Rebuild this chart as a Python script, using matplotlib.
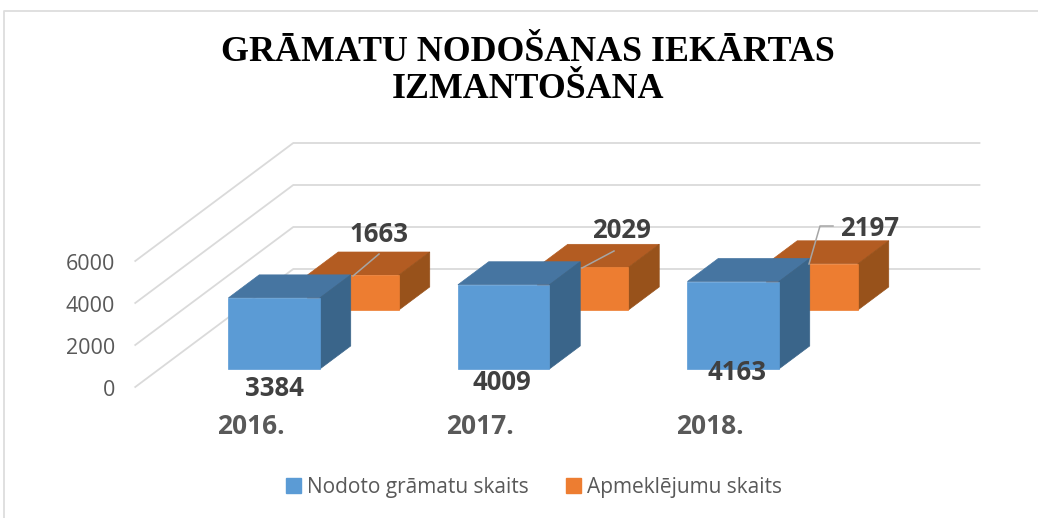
import matplotlib
matplotlib.use("Agg")
import matplotlib.pyplot as plt
from matplotlib.lines import Line2D
from matplotlib.patches import Rectangle

# Dati
years = ["2016.", "2017.", "2018."]
books = [3384, 4009, 4163]
visits = [1663, 2029, 2197]
y_ticks = [0, 2000, 4000, 6000]
title = "GRĀMATU NODOŠANAS IEKĀRTAS\nIZMANTOŠANA"
names = ["Nodoto grāmatu skaits", "Apmeklējumu skaits"]

# Krāsas: priekša, augša, sāns
blue = ("#5B9BD5", "#4675A1", "#3A658A")
orange = ("#ED7D31", "#B35C22", "#98521B")

W, H = 1038, 518
PX_PER_UNIT = 0.021   # pikseļi uz vienu vērtības vienību
CAT_PX = 229.5        # attālums starp kategorijām
DEPTH_X = 158 / CAT_PX
DEPTH_Y = 118 / PX_PER_UNIT
BAR_W = 91.5 / CAT_PX


def proj(x, v, d):
    # slīpā projekcija: d = 0 priekšējā mala, d = 1 aizmugurējā siena
    return x + d * DEPTH_X, v + d * DEPTH_Y


def px(x, y):
    return x / W, 1 - y / H


def box(ax, x, v, d0, d1, colors, z):
    x0, x1 = x - BAR_W / 2, x + BAR_W / 2
    front = [proj(x0, 0, d0), proj(x1, 0, d0), proj(x1, v, d0), proj(x0, v, d0)]
    top = [proj(x0, v, d0), proj(x1, v, d0), proj(x1, v, d1), proj(x0, v, d1)]
    side = [proj(x1, 0, d0), proj(x1, 0, d1), proj(x1, v, d1), proj(x1, v, d0)]
    for pts, c in zip((top, side, front), colors[1:] + colors[:1]):
        xs, ys = zip(*pts)
        ax.fill(xs, ys, color=c, lw=0.5, zorder=z)


fig = plt.figure(figsize=(W / 100, H / 100), dpi=100)
ax = fig.add_axes([0, 0, 1, 1])
ax.set_xlim(-250 / CAT_PX, (W - 250) / CAT_PX)
ax.set_ylim((387 - H) / PX_PER_UNIT, 387 / PX_PER_UNIT)
ax.axis("off")

# Rāmis
fig.add_artist(Line2D([4.5 / W, 4.5 / W, 1], [0, 1 - 10.5 / H, 1 - 10.5 / H], color="#DDDDDD", lw=1.3))

# Režģis
for t in y_ticks:
    a = proj(-0.5, t, 0)
    b = proj(-0.5, t, 1)
    c = proj(2.49, t, 1)
    ax.plot([a[0], b[0], c[0]], [a[1], b[1], c[1]], color="#DADADA", lw=1.3, zorder=1)
    ax.text(-0.5 - 20 / CAT_PX, t - 3.5 / PX_PER_UNIT, str(t), ha="right", va="center", fontsize=15.5,
            family="Open Sans", color="#595959")

# Stabiņi
for i in range(3):
    box(ax, i, visits[i], 0.653, 0.848, orange, 2 + i)
    box(ax, i, books[i], 0.153, 0.348, blue, 2.5 + i)
    ax.text(i + 0.5 / CAT_PX, -40 / PX_PER_UNIT, years[i], ha="center", va="center", fontsize=19,
            family="Open Sans", weight="bold", color="#595959", zorder=10)

# Vērtību etiķetes
label_font = dict(fontsize=18.5, family="Open Sans", weight="bold", color="#404040",
                  ha="center", va="center", zorder=10, transform=fig.transFigure)
book_pos = [(274, 388), (502, 382), (737, 373)]
visit_pos = [(379, 235), (621, 231), (870, 228)]
for v, p in zip(books, book_pos):
    ax.text(*px(*p), str(v), **label_font)
for v, p in zip(visits, visit_pos):
    ax.text(*px(*p), str(v), **label_font)

# Līnijas līdz etiķetēm
leaders = [[(353, 276), (379, 254)], [(582, 268), (614, 251)], [(809, 264), (820, 226), (833, 226)]]
for pts in leaders:
    xs, ys = zip(*[px(*p) for p in pts])
    fig.add_artist(Line2D(xs, ys, color="#A6A6A6", lw=1.1, zorder=9))

# Virsraksts
fig.text(528 / W, 1 - 71 / H, title, ha="center", va="center", fontsize=25.8, family="Liberation Serif",
         weight="bold", color="black", linespacing=1.13)

# Leģenda
handles = [Rectangle((0, 0), 1, 1, color=blue[0]), Rectangle((0, 0), 1, 1, color=orange[0])]
fig.legend(handles, names, loc="center", bbox_to_anchor=px(534, 487), ncol=2, frameon=False,
           prop={"family": "Open Sans", "size": 15}, labelcolor="#595959",
           handlelength=0.7, handleheight=0.7, handletextpad=0.3, columnspacing=1.8)

fig.savefig("out.png", dpi=100)
